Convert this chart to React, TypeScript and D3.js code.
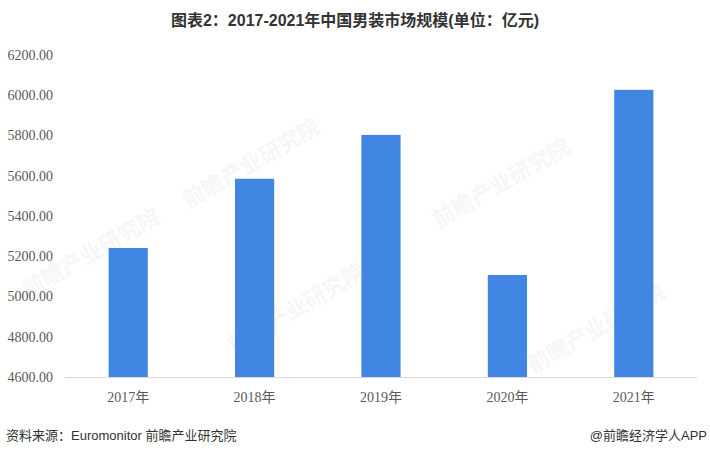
import React from "react";
import * as d3 from "d3";

const categories = ["2017年", "2018年", "2019年", "2020年", "2021年"];
const values = [5241, 5585, 5803, 5107, 6027];
const yTicks = [4600, 4800, 5000, 5200, 5400, 5600, 5800, 6000, 6200];
const titleText = "图表2：2017-2021年中国男装市场规模(单位：亿元)";
const sourceText = "资料来源：Euromonitor 前瞻产业研究院";
const creditText = "@前瞻经济学人APP";
const watermarkText = "前瞻产业研究院";
const watermarkSpots = [
  [255, 170],
  [505, 190],
  [600, 335],
  [300, 315],
  [95, 260],
];

const W = 710;
const H = 456;
const margin = { left: 65, right: 13, top: 55, bottom: 79 };

export default function App() {
  const x = d3
    .scaleBand<string>()
    .domain(categories)
    .range([margin.left, W - margin.right])
    .paddingInner(0.69)
    .paddingOuter(0.345);
  const y = d3.scaleLinear().domain([4600, 6200]).range([H - margin.bottom, margin.top]);
  const serif = "'Liberation Serif', 'Times New Roman', 'Noto Sans CJK SC', serif";
  const sans = "'Liberation Sans', Arial, 'Noto Sans CJK SC', sans-serif";
  return (
    <svg
      width={W}
      height={H}
      style={{ position: "absolute", left: 0, top: 0, background: "#fff" }}
    >
      <rect x={0} y={0} width={W} height={H} fill="#fff" />
      {watermarkSpots.map(([wx, wy], i) => (
        <text
          key={i}
          x={wx}
          y={wy}
          textAnchor="middle"
          fontFamily={sans}
          fontWeight="bold"
          fontSize={22}
          fill="#000"
          opacity={0.03}
          transform={`rotate(-30 ${wx} ${wy})`}
        >
          {watermarkText}
        </text>
      ))}
      <text
        x={355}
        y={26}
        textAnchor="middle"
        fontFamily={sans}
        fontWeight="bold"
        fontSize={16}
        fill="#333"
      >
        {titleText}
      </text>
      {yTicks.map((t) => (
        <text
          key={t}
          x={53}
          y={y(t)}
          dy="0.35em"
          textAnchor="end"
          fontFamily={serif}
          fontSize={14}
          fill="#595959"
        >
          {d3.format(".2f")(t)}
        </text>
      ))}
      {categories.map((c, i) => (
        <rect
          key={c}
          x={x(c)}
          y={y(values[i])}
          width={x.bandwidth()}
          height={y(4600) - y(values[i])}
          fill="#4286e3"
        />
      ))}
      <line
        x1={margin.left}
        x2={W - margin.right}
        y1={y(4600) + 0.5}
        y2={y(4600) + 0.5}
        stroke="#d9d9d9"
        strokeWidth={1}
      />
      {categories.map((c) => (
        <text
          key={c}
          x={(x(c) as number) + x.bandwidth() / 2}
          y={402}
          textAnchor="middle"
          fontFamily={serif}
          fontSize={14}
          fill="#595959"
        >
          {c}
        </text>
      ))}
      <text x={6} y={440} fontFamily={sans} fontSize={13} fill="#333">
        {sourceText}
      </text>
      <text x={707} y={440} textAnchor="end" fontFamily={sans} fontSize={13} fill="#333">
        {creditText}
      </text>
    </svg>
  );
}
